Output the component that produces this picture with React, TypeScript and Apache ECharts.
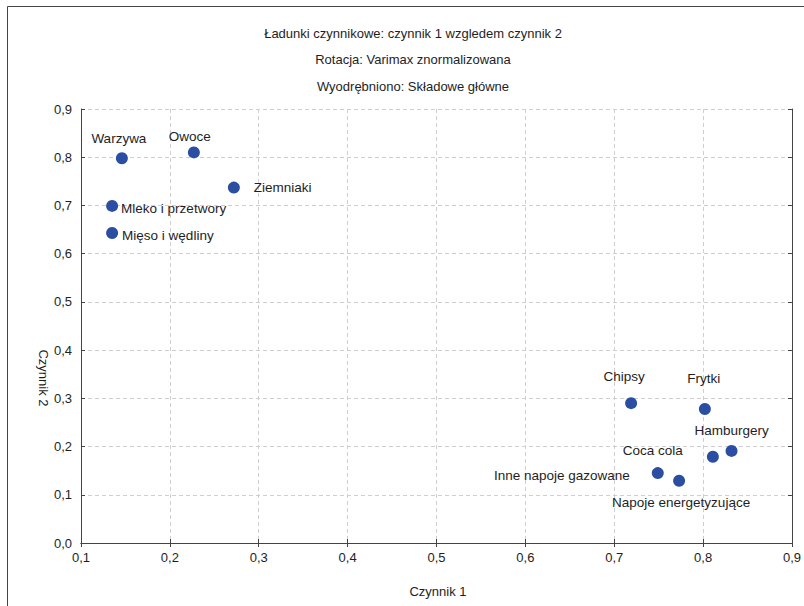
import React, { useEffect, useRef } from "react";
import * as echarts from "echarts";

const names = [
  "Warzywa",
  "Owoce",
  "Ziemniaki",
  "Mleko i przetwory",
  "Mięso i wędliny",
  "Chipsy",
  "Frytki",
  "Hamburgery",
  "Coca cola",
  "Inne napoje gazowane",
  "Napoje energetyzujące",
];
const czynnik1 = [0.146, 0.227, 0.272, 0.135, 0.135, 0.719, 0.802, 0.832, 0.811, 0.749, 0.773];
const czynnik2 = [0.798, 0.81, 0.737, 0.699, 0.643, 0.29, 0.278, 0.191, 0.179, 0.145, 0.129];

const titleLines = [
  "Ładunki czynnikowe: czynnik 1 wzgledem czynnik 2",
  "Rotacja: Varimax znormalizowana",
  "Wyodrębniono: Składowe główne",
];
const xName = "Czynnik 1";
const yName = "Czynnik 2";

// label placement (style only)
const labelPlacement: { position: string; offset: number[] }[] = [
  { position: "top", offset: [-3, -2] },
  { position: "top", offset: [-4, 2] },
  { position: "right", offset: [9, 0] },
  { position: "right", offset: [-2, 3] },
  { position: "right", offset: [-1, 3] },
  { position: "top", offset: [-7, -9] },
  { position: "top", offset: [-1, -12] },
  { position: "top", offset: [0, -2] },
  { position: "left", offset: [-19, -6] },
  { position: "left", offset: [-17, 2] },
  { position: "bottom", offset: [2, 4] },
];

const FONT = "'Liberation Sans', Arial, sans-serif";
const TXT = "#1e1e1e";

const fmt = (v: number) => v.toFixed(1).replace(".", ",");

export default function App() {
  const ref = useRef<HTMLDivElement>(null);
  useEffect(() => {
    if (!ref.current) return;
    const chart = echarts.init(ref.current, null, { renderer: "svg" });
    const data = names.map((n, i) => ({
      value: [czynnik1[i], czynnik2[i]],
      name: n,
      label: {
        position: labelPlacement[i].position as any,
        offset: labelPlacement[i].offset,
      },
    }));
    const baseAxis = {
      min: 0,
      max: 0.9,
      interval: 0.1,
    };
    chart.setOption({
      animation: false,
      backgroundColor: "#fff",
      grid: { left: 81, right: 5, top: 109, bottom: 63, containLabel: false },
      xAxis: [
        {
          type: "value",
          min: 0.1,
          max: 0.9,
          interval: 0.1,
          position: "bottom",
          axisLine: { show: true, lineStyle: { color: "#444", width: 1 } },
          axisTick: { show: true, inside: true, length: 4, lineStyle: { color: "#444" } },
          axisLabel: {
            formatter: fmt,
            color: TXT,
            fontSize: 13,
            fontFamily: FONT,
            margin: 8,
          },
          splitLine: { show: true, lineStyle: { color: "#cfcfcf", type: [4, 3], width: 1 } },
        },
        {
          type: "value",
          min: 0.1,
          max: 0.9,
          interval: 0.1,
          position: "top",
          axisLine: { show: true, lineStyle: { color: "#444", width: 1 } },
          axisTick: { show: true, inside: true, length: 4, lineStyle: { color: "#444" } },
          axisLabel: { show: false },
          splitLine: { show: false },
        },
      ],
      yAxis: [
        {
          type: "value",
          ...baseAxis,
          position: "left",
          axisLine: { show: true, lineStyle: { color: "#444", width: 1 } },
          axisTick: { show: true, inside: true, length: 4, lineStyle: { color: "#444" } },
          axisLabel: {
            formatter: fmt,
            color: TXT,
            fontSize: 13,
            fontFamily: FONT,
            margin: 9,
          },
          splitLine: { show: true, lineStyle: { color: "#cfcfcf", type: [4, 3], width: 1 } },
        },
        {
          type: "value",
          ...baseAxis,
          position: "right",
          axisLine: { show: true, lineStyle: { color: "#444", width: 1 } },
          axisTick: { show: true, inside: true, length: 4, lineStyle: { color: "#444" } },
          axisLabel: { show: false },
          splitLine: { show: false },
        },
      ],
      series: [
        {
          type: "scatter",
          xAxisIndex: 0,
          yAxisIndex: 0,
          symbol: "circle",
          symbolSize: 12,
          itemStyle: { color: "#2b4ea3", opacity: 1 },
          label: {
            show: true,
            formatter: "{b}",
            color: TXT,
            fontSize: 13.5,
            fontFamily: FONT,
            distance: 5,
          },
          data,
        },
      ],
      graphic: [
        {
          type: "rect",
          shape: { x: 7.5, y: 6.5, width: 900, height: 700 },
          style: { fill: "none", stroke: "#444", lineWidth: 1 },
          silent: true,
          z: -1,
        },
        ...titleLines.map((t, i) => ({
          type: "text",
          x: 413,
          y: 33 + i * 26.5,
          style: {
            text: t,
            fill: TXT,
            font: `13px ${FONT}`,
            align: "center",
            verticalAlign: "middle",
          },
        })),
        {
          type: "text",
          x: 438,
          y: 591,
          style: {
            text: xName,
            fill: TXT,
            font: `13px ${FONT}`,
            align: "center",
            verticalAlign: "middle",
          },
        },
        {
          type: "text",
          x: 43,
          y: 378,
          rotation: -Math.PI / 2,
          style: {
            text: yName,
            fill: TXT,
            font: `13px ${FONT}`,
            align: "center",
            verticalAlign: "middle",
          },
        },
      ],
    });
    return () => chart.dispose();
  }, []);
  return <div ref={ref} style={{ width: 804, height: 606, position: "absolute", left: 0, top: 0 }} />;
}
